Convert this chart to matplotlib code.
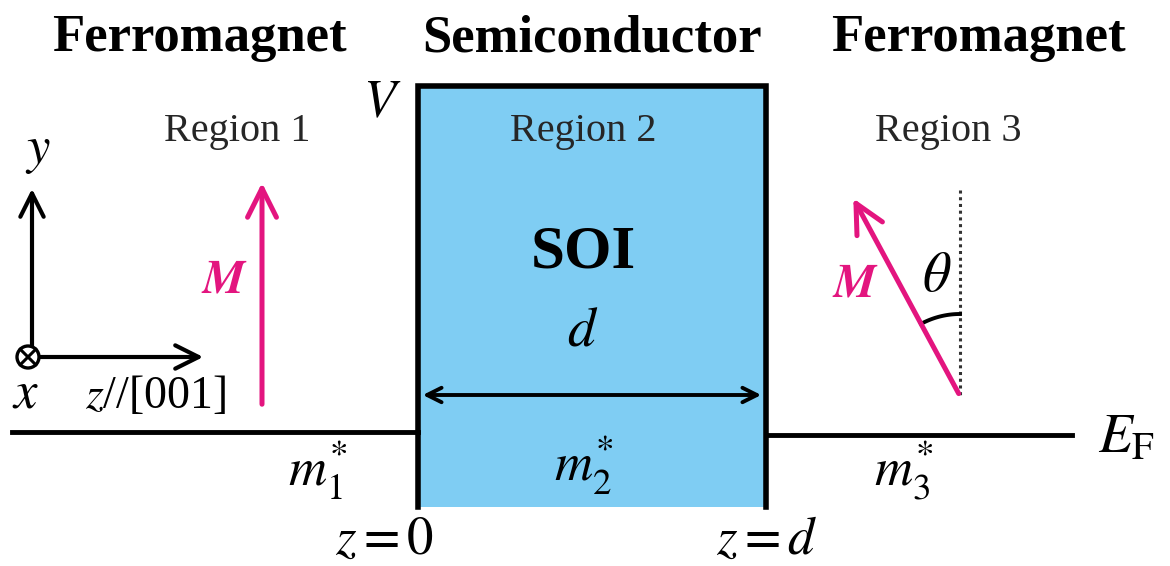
import numpy as np
import matplotlib
matplotlib.use("Agg")
from matplotlib import pyplot as plt
from matplotlib.patches import Rectangle, Circle

plt.rcParams['font.family'] = ['Liberation Serif', 'DejaVu Serif']
plt.rcParams['mathtext.fontset'] = 'stix'

W, H = 1170, 566
BLUE = '#7fcdf3'
MAGENTA = '#e3157f'

# layer names and where they sit (pixel x centres)
layer_names = ['Ferromagnet', 'Semiconductor', 'Ferromagnet']
layer_x = [199, 592, 978]
region_labels = ['Region 1', 'Region 2', 'Region 3']
region_x = [237, 583, 948]

# barrier box (z = 0 .. z = d) and Fermi level lines
box_left, box_right = 418, 766
box_top, box_bottom = 86, 507
ef_left = [12, 418, 432]     # x0, x1, y
ef_right = [766, 1072, 435]
mass_labels = [r'$m_1^{*}$', r'$m_2^{*}$', r'$m_3^{*}$']
mass_x = [318, 584, 904]
mass_y = [470, 465, 470]

# magnetisation: region 1 straight up, region 3 tilted by theta
m1_tail, m1_head = (262, 407), (262, 180)
m3_tail, m3_head = (960, 396), (852, 196)

fig = plt.figure(figsize=(W / 100, H / 100), dpi=100)
ax = fig.add_axes([0, 0, 1, 1])
ax.set_xlim(0, W)
ax.set_ylim(H, 0)
ax.axis('off')

for name, x in zip(layer_names, layer_x):
    ax.text(x, 38, name, ha='center', va='center', fontsize=38, fontweight='bold')
for name, x in zip(region_labels, region_x):
    ax.text(x, 132, name, ha='center', va='center', fontsize=29, color='#262626')

# box
ax.add_patch(Rectangle((box_left, box_top), box_right - box_left, box_bottom - box_top,
                       facecolor=BLUE, edgecolor='none', zorder=1))
ax.plot([box_left, box_left, box_right, box_right],
        [box_bottom, box_top, box_top, box_bottom], color='black', lw=4,
        solid_joinstyle='miter', zorder=2)
ax.text(382, 104, r'$V$', ha='center', va='center', fontsize=38)
ax.text(583, 252, 'SOI', ha='center', va='center', fontsize=44, fontweight='bold')
ax.text(583, 332, r'$d$', ha='center', va='center', fontsize=40)
ax.annotate('', xy=(box_left + 2, 395), xytext=(box_right - 2, 395),
            arrowprops=dict(arrowstyle='<->', lw=2.8, color='black', mutation_scale=26))

# Fermi level
ax.plot(ef_left[:2], [ef_left[2]] * 2, color='black', lw=3.5, zorder=3)
ax.plot(ef_right[:2], [ef_right[2]] * 2, color='black', lw=3.5, zorder=3)
ax.text(1098, 438, r'$E_{\mathrm{F}}$', ha='left', va='center', fontsize=40)

for lab, x, y in zip(mass_labels, mass_x, mass_y):
    ax.text(x, y, lab, ha='center', va='center', fontsize=38)
ax.text(385, 541, r'$z{=}0$', ha='center', va='center', fontsize=38)
ax.text(767, 541, r'$z{=}d$', ha='center', va='center', fontsize=38)

# coordinate axes
ax.annotate('', xy=(32, 186), xytext=(32, 360),
            arrowprops=dict(arrowstyle='->', lw=3, color='black', mutation_scale=42))
ax.annotate('', xy=(206, 357), xytext=(32, 357),
            arrowprops=dict(arrowstyle='->', lw=3, color='black', mutation_scale=42))
ax.add_patch(Circle((28, 357), 11, facecolor='white', edgecolor='black', lw=2.4, zorder=4))
r = 11 / np.sqrt(2)
ax.plot([28 - r, 28 + r], [357 - r, 357 + r], color='black', lw=2.2, zorder=5)
ax.plot([28 - r, 28 + r], [357 + r, 357 - r], color='black', lw=2.2, zorder=5)
ax.text(38, 152, r'$y$', ha='center', va='center', fontsize=38)
ax.text(25, 394, r'$x$', ha='center', va='center', fontsize=38)
ax.text(85, 396, r'$z$//[001]', ha='left', va='center', fontsize=33)

# region 1 magnetisation
ax.annotate('', xy=m1_head, xytext=m1_tail,
            arrowprops=dict(arrowstyle='->', lw=3.6, color=MAGENTA, mutation_scale=52))
ax.text(224, 281, r'$\boldsymbol{M}$', ha='center', va='center', fontsize=34, color=MAGENTA)

# region 3 magnetisation, tilted
ax.plot([960, 960], [190, 396], color='#333333', lw=2.2, ls=(0, (1, 1.2)))
ax.annotate('', xy=m3_head, xytext=m3_tail,
            arrowprops=dict(arrowstyle='->', lw=3.6, color=MAGENTA, mutation_scale=52))
ax.text(855, 285, r'$\boldsymbol{M}$', ha='center', va='center', fontsize=34, color=MAGENTA)
ax.text(937, 277, r'$\theta$', ha='center', va='center', fontsize=40)
dx, dy = m3_head[0] - m3_tail[0], m3_tail[1] - m3_head[1]
phi = np.arctan2(dy, dx)
t = np.linspace(np.pi / 2, phi, 30)
rad = 82
ax.plot(m3_tail[0] + rad * np.cos(t), m3_tail[1] - rad * np.sin(t), color='black', lw=2.8)

fig.savefig('out.png', dpi=100)
